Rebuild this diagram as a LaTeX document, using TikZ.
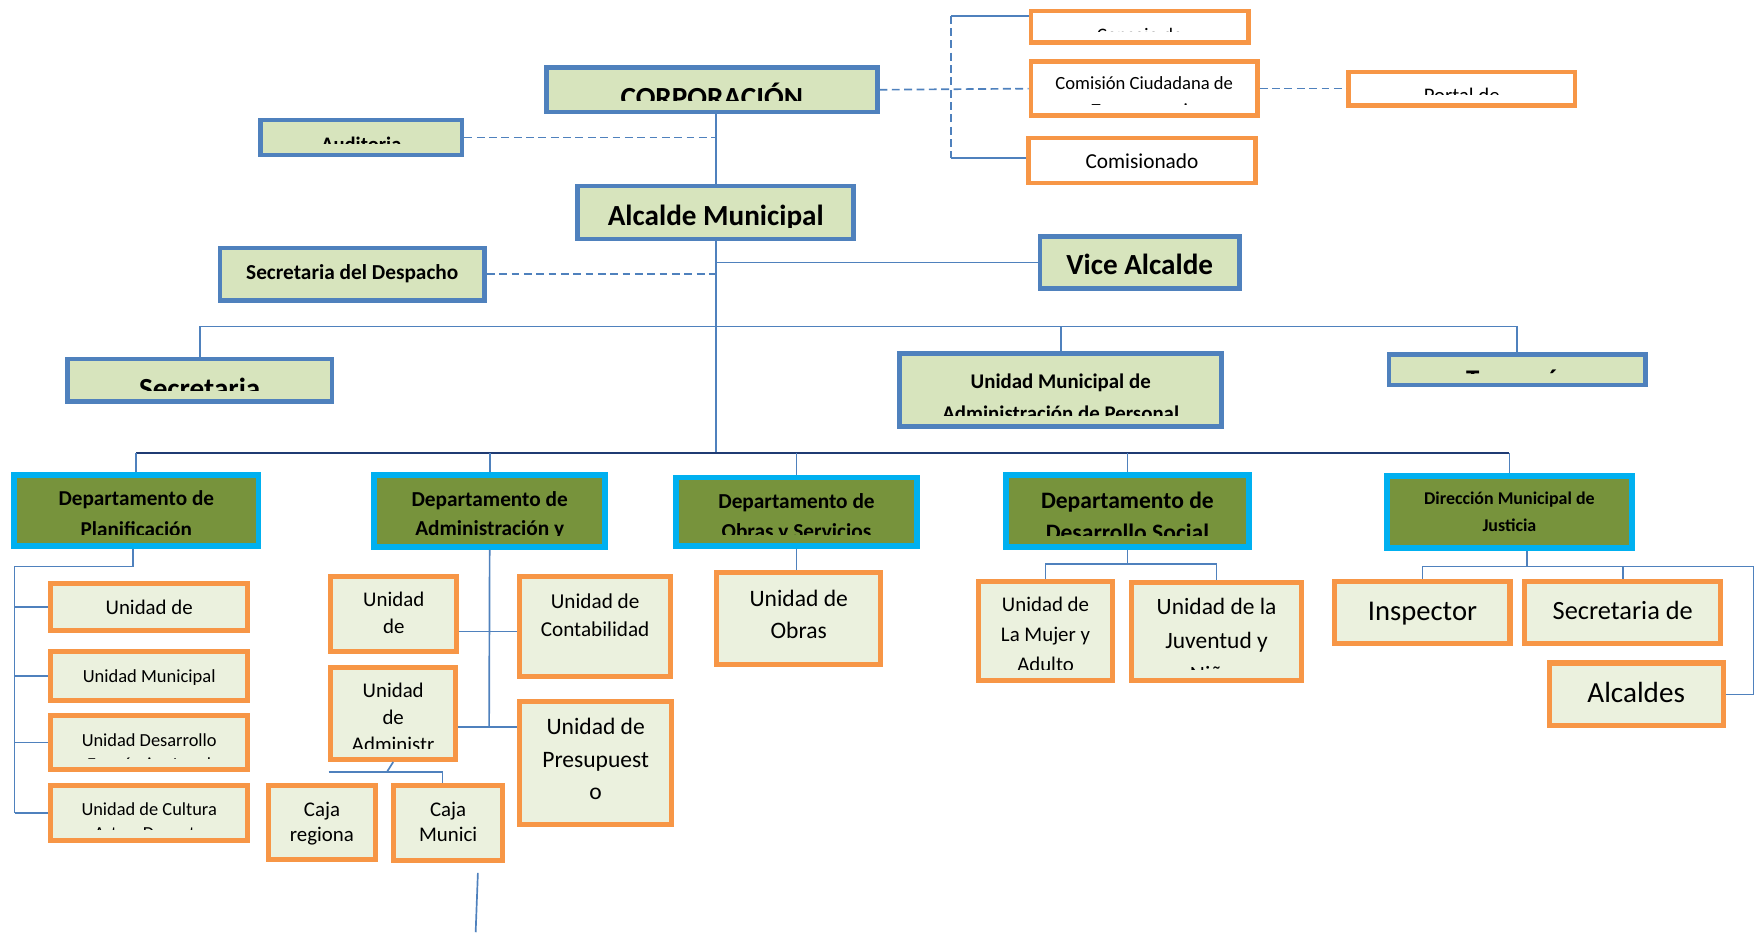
\documentclass[tikz,border=0pt]{standalone}
\usepackage{fontspec}
\setmainfont{Carlito}

\definecolor{blu}{HTML}{4F81BD}
\definecolor{lgreen}{HTML}{D7E4BD}
\definecolor{olive}{HTML}{77933C}
\definecolor{skyb}{HTML}{00B0F0}
\definecolor{orng}{HTML}{F79646}
\definecolor{cream}{HTML}{EBF1DE}
\definecolor{navy}{HTML}{1F3B73}

\newcommand\sz[2]{\fontsize{#1}{#2}\selectfont}

\begin{document}
\begin{tikzpicture}[
        x=1pt, y=-1pt,
        lvla/.style={draw=blu, fill=lgreen, line width=4, inner sep=0},
        dept/.style={draw=skyb, fill=olive, line width=5, inner sep=0},
        obox/.style={draw=orng, fill=white, line width=4, inner sep=0},
        ubox/.style={draw=orng, fill=cream, line width=4.5, inner sep=0},
        % text cut off at the bottom of its box (#2: last baseline below top)
        txt/.style n args={3}{path picture={
            \clip ([yshift=10]path picture bounding box.south west) rectangle (path picture bounding box.north east);
            \node[anchor=base, inner sep=0, draw=none, fill=none, minimum size=0pt, align=center, font=#3]
                at ([yshift=-#2]path picture bounding box.north) {#1};}},
        conn/.style={draw=blu, line width=1.5},
        dashconn/.style={conn, dash pattern=on 7pt off 4pt},
        bus/.style={draw=navy, line width=2}
    ]
        \useasboundingbox (0,0) rectangle (1568,831);

        % Top level
        \node[lvla, minimum width=295, minimum height=40, txt={CORPORACIÓN}{35.5}{\bfseries\sz{26}{30}}] (corp) at (634.5,80) {};
        \node[lvla, minimum width=180, minimum height=31, txt={Auditoria}{28}{\bfseries\sz{18.4}{22}}] (aud) at (322,122.5) {};
        \node[lvla, minimum width=246, minimum height=47, txt={Alcalde Municipal}{34.6}{\bfseries\sz{26}{30}}] (alc) at (638,189.5) {};
        \node[lvla, minimum width=236, minimum height=47, txt={Secretaria del Despacho}{28}{\bfseries\sz{19}{23}}] (sec) at (314,244.5) {};
        \node[lvla, minimum width=178, minimum height=46, txt={Vice Alcalde}{34}{\bfseries\sz{26}{30}}] (vice) at (1016,234) {};
        \node[lvla, minimum width=236, minimum height=38, txt={Secretaria}{35.5}{\bfseries\sz{26}{30}}] (secm) at (178,339) {};
        \node[lvla, minimum width=287, minimum height=65, txt={Unidad Municipal de\\Administración de Personal}{60}{\bfseries\sz{18.6}{29}}] (ump) at (945.5,347.5) {};
        \node[lvla, minimum width=229, minimum height=27, txt={Tesorería}{30.5}{\bfseries\sz{24}{28}}] (tes) at (1352.5,329.5) {};

        % Commissions
        \node[obox, minimum width=194, minimum height=28, txt={Consejo de}{27}{\sz{17}{21}}] (cons) at (1016,24) {};
        \node[obox, minimum width=202, minimum height=48, txt={Comisión Ciudadana de\\Transparencia}{49}{\sz{16.6}{24}}] (com) at (1020,79) {};
        \node[obox, minimum width=202, minimum height=40, txt={Comisionado}{27}{\sz{19}{23}}] (comi) at (1018,143) {};
        \node[obox, minimum width=202, minimum height=30, txt={Portal de}{27.5}{\sz{18.5}{22}}] (portal) at (1303,79) {};

        % Departments
        \node[dept, minimum width=218, minimum height=63, txt={Departamento de\\Planificación}{54.5}{\bfseries\sz{18.9}{27}}] (dplan) at (121.5,455) {};
        \node[dept, minimum width=206, minimum height=64, txt={Departamento de\\Administración y}{54}{\bfseries\sz{19}{26}}] (dadm) at (436.5,455.5) {};
        \node[dept, minimum width=215, minimum height=61, txt={Departamento de\\Obras y Servicios}{54.5}{\bfseries\sz{19}{27}}] (dobr) at (710,456) {};
        \node[dept, minimum width=217, minimum height=64, txt={Departamento de\\Desarrollo Social}{58.5}{\bfseries\sz{21}{29}}] (dsoc) at (1005,455.5) {};
        \node[dept, minimum width=218, minimum height=64, txt={Dirección Municipal de\\Justicia}{49.5}{\bfseries\sz{16}{24}}] (djus) at (1345.5,456.5) {};

        % Units
        \node[ubox, minimum width=176, minimum height=42, txt={Unidad de}{28}{\sz{18.6}{22}}] (uni1) at (133,541) {};
        \node[ubox, minimum width=176, minimum height=43, txt={Unidad Municipal}{27.5}{\sz{16.5}{22}}] (umun) at (133,602.5) {};
        \node[ubox, minimum width=176, minimum height=48, txt={Unidad Desarrollo\\Económico Local}{49}{\sz{16.4}{22}}] (udes) at (133,662) {};
        \node[ubox, minimum width=176, minimum height=49, txt={Unidad de Cultura\\Arte y Deporte}{48.5}{\sz{16.4}{22}}] (ucul) at (133,724.5) {};
        \node[ubox, minimum width=112, minimum height=67, txt={Unidad\\de}{50.5}{\sz{18.6}{23.5}}] (uu1) at (351,547.5) {};
        \node[ubox, minimum width=111, minimum height=82, txt={Unidad\\de\\Administr}{75}{\sz{18.6}{24}}] (uadm) at (350.5,636) {};
        \node[ubox, minimum width=135, minimum height=89, txt={Unidad de\\Contabilidad}{53.5}{\sz{18.9}{25.5}}] (ucon) at (530.5,558.5) {};
        \node[ubox, minimum width=136, minimum height=110, txt={Unidad de\\Presupuest\\o}{88}{\sz{21}{29}}] (upre) at (531,680) {};
        \node[ubox, minimum width=96, minimum height=66, txt={Caja\\regiona}{50}{\sz{18.6}{22}}] (ucr) at (287,733) {};
        \node[ubox, minimum width=97, minimum height=67, txt={Caja\\Munici}{50}{\sz{18.6}{22}}] (ucm) at (399.5,733.5) {};
        \node[ubox, minimum width=146, minimum height=82, txt={Unidad de\\Obras}{59.5}{\sz{21}{28.5}}] (uobr) at (712,551) {};
        \node[ubox, minimum width=120, minimum height=89, txt={Unidad de\\La Mujer y\\Adulto}{81}{\sz{18.6}{27}}] (umuj) at (932,562.5) {};
        \node[ubox, minimum width=151, minimum height=88, txt={Unidad de la\\Juventud y\\Niñez}{89}{\sz{20.9}{30}}] (ujuv) at (1084.5,563) {};
        \node[ubox, minimum width=156, minimum height=56, txt={Inspector}{34.7}{\sz{25.5}{30}}] (insp) at (1268,546) {};
        \node[ubox, minimum width=175, minimum height=56, txt={Secretaria de}{34}{\sz{23.5}{28}}] (sdea) at (1446.5,546) {};
        \node[ubox, minimum width=155, minimum height=56, txt={Alcaldes}{35}{\sz{26}{30}}] (alcs) at (1458.5,619) {};

        % Bends and bus lines
        \coordinate (bt) at (848,14);
        \coordinate (bb) at (848,141);
        \coordinate (b1) at (638,291);
        \coordinate (b2) at (638,404);
        \coordinate (p1) at (13,505);
        \coordinate (a1) at (436,648);
        \coordinate (a2) at (436,563);
        \coordinate (c0) at (293,688);
        \coordinate (c1) at (345,688);
        \coordinate (s1) at (426,778);
        \coordinate (s2) at (424,831);
        \coordinate (s3) at (1005,503);
        \coordinate (j1) at (1361,505);
        \coordinate (j2) at (1563,505);

        % Corporation and mayor
        \draw[conn] (corp.south -| alc.north) -- (alc.north);
        \draw[dashconn] (aud.east) -- (aud.east -| alc.north);
        \draw[dashconn] (corp.east) -- (com.west);
        \draw[conn] (bt -| cons.west) -- (bt);
        \draw[dashconn] (bt) -- (bb);
        \draw[conn] (bb) -- (bb -| comi.west);
        \draw[dashconn] (com.east) -- (portal.west);
        \draw[conn] (alc.south) -- (b2);
        \draw[conn] (vice.west -| alc.south) -- (vice.west);
        \draw[dashconn] (sec.east) -- (sec.east -| alc.south);

        % Staff level
        \draw[conn] (secm.north) |- (tes.north |- b1) -- (tes.north);
        \draw[conn] (ump.north |- b1) -- (ump.north);

        % Departments bus
        \draw[bus] (dplan.north |- b2) -- (djus.north |- b2);
        \foreach \d in {dplan, dadm, dobr, dsoc, djus}
            \draw[conn] (\d.north |- b2) -- (\d.north);

        % Planificacion
        \draw[conn] ([xshift=-3]dplan.south) |- (p1) -- (p1 |- ucul.west);
        \foreach \u in {uni1, umun, udes, ucul}
            \draw[conn] (p1 |- \u.west) -- (\u.west);

        % Administracion
        \draw[conn] (dadm.south) -- (a1);
        \draw[conn] (a2 -| uu1.east) -- (a2 -| ucon.west);
        \draw[conn] (a1 -| uadm.east) -- (a1 -| upre.west);
        \draw[conn] (uadm.south) -- (c1);
        \draw[conn] (c0) -| ([xshift=-5]ucm.north);
        \draw[conn] (s1) -- (s2);

        % Obras
        \draw[conn] (dobr.south) -- (dobr.south |- uobr.north);

        % Desarrollo social
        \draw[conn] (dsoc.south) -- (s3);
        \draw[conn] (umuj.north) |- (s3) -| (ujuv.north);

        % Justicia
        \draw[conn] (djus.south -| j1) -- (j1);
        \draw[conn] (insp.north) |- (j2) -- (j2 |- alcs.east) -- (alcs.east);
        \draw[conn] (sdea.north |- j1) -- (sdea.north);
    \end{tikzpicture}
\end{document}
